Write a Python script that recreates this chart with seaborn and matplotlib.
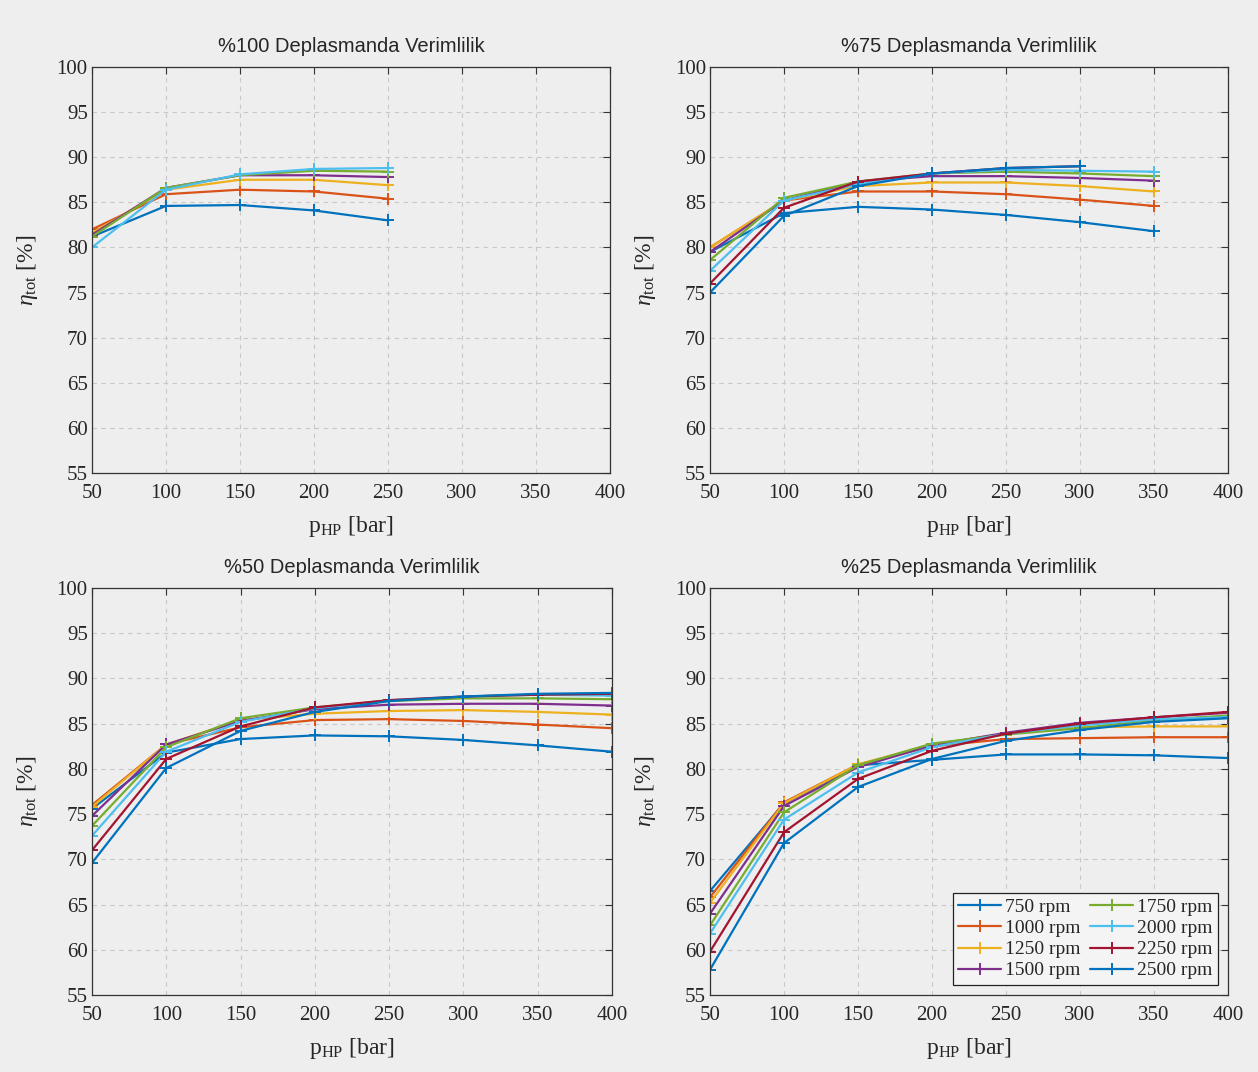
import matplotlib
matplotlib.use('Agg')
import matplotlib.pyplot as plt
import seaborn as sns
import pandas as pd
import numpy as np

# rpm values and MATLAB-style colours
rpm_labels = ['750 rpm', '1000 rpm', '1250 rpm', '1500 rpm',
              '1750 rpm', '2000 rpm', '2250 rpm', '2500 rpm']
renkler = ['#0072BD', '#D95319', '#EDB120', '#7E2F8E',
           '#77AC30', '#4DBEEE', '#A2142F', '#0072BD']

p_hp = [50, 100, 150, 200, 250, 300, 350, 400]

# %100 deplasman (sadece 750-2000 rpm, 250 bar'a kadar)
eta_100 = [
    [81.2, 84.6, 84.7, 84.1, 83.0],
    [82.0, 85.9, 86.4, 86.2, 85.4],
    [81.6, 86.4, 87.5, 87.5, 86.9],
    [81.4, 86.6, 88.0, 88.0, 87.8],
    [81.2, 86.6, 88.0, 88.5, 88.4],
    [80.0, 86.4, 88.1, 88.7, 88.8],
]

# %75 deplasman
eta_75 = [
    [79.5, 83.8, 84.5, 84.2, 83.6, 82.8, 81.8],
    [80.0, 85.2, 86.2, 86.2, 85.9, 85.3, 84.6],
    [80.0, 85.2, 86.8, 87.2, 87.2, 86.8, 86.2],
    [79.5, 85.2, 87.3, 87.9, 87.9, 87.7, 87.4],
    [78.6, 85.5, 87.3, 88.2, 88.4, 88.2, 87.9],
    [77.4, 85.2, 87.0, 88.2, 88.6, 88.5, 88.4],
    [76.0, 84.4, 87.3, 88.2, 88.8, 89.0],
    [75.0, 83.5, 86.8, 88.2, 88.8, 89.0],
]

# %50 deplasman
eta_50 = [
    [75.6, 81.8, 83.3, 83.7, 83.6, 83.2, 82.6, 81.9],
    [76.0, 82.7, 84.6, 85.4, 85.5, 85.3, 84.9, 84.5],
    [75.8, 82.7, 85.4, 86.1, 86.4, 86.5, 86.3, 86.0],
    [74.8, 82.7, 85.3, 86.6, 87.1, 87.2, 87.2, 87.0],
    [73.7, 82.4, 85.6, 86.8, 87.5, 87.8, 87.8, 87.7],
    [72.6, 81.9, 85.2, 86.7, 87.6, 88.0, 88.2, 88.1],
    [71.0, 81.1, 84.7, 86.8, 87.6, 88.0, 88.2, 88.3],
    [69.6, 80.1, 84.2, 86.3, 87.5, 88.0, 88.3, 88.4],
]

# %25 deplasman
eta_25 = [
    [66.5, 76.2, 80.4, 81.0, 81.6, 81.6, 81.5, 81.2],
    [65.8, 76.3, 80.5, 82.5, 83.3, 83.4, 83.5, 83.5],
    [65.2, 76.2, 80.5, 82.7, 83.9, 84.6, 84.7, 84.7],
    [64.0, 75.9, 80.2, 82.6, 84.0, 85.1, 85.7, 86.2],
    [62.7, 75.2, 80.4, 82.8, 83.8, 84.5, 85.4, 85.9],
    [61.8, 74.4, 79.6, 82.4, 83.9, 84.8, 85.5, 85.7],
    [59.8, 73.0, 78.9, 82.0, 83.9, 85.0, 85.7, 86.3],
    [57.8, 71.8, 78.0, 81.1, 83.1, 84.3, 85.2, 85.6],
]

basliklar = ['%100 Deplasmanda Verimlilik', '%75 Deplasmanda Verimlilik',
             '%50 Deplasmanda Verimlilik', '%25 Deplasmanda Verimlilik']
paneller = [eta_100, eta_75, eta_50, eta_25]

sns.set_style('whitegrid')
plt.rcParams['font.family'] = ['Liberation Serif', 'DejaVu Serif']
plt.rcParams['mathtext.fontset'] = 'custom'
plt.rcParams['mathtext.rm'] = 'Liberation Serif'
plt.rcParams['mathtext.it'] = 'Liberation Serif:italic'

arka = '#eeeeee'
fig = plt.figure(figsize=(12.58, 10.72), dpi=100, facecolor=arka)

# eksen konumlari (sol, alt, genislik, yukseklik)
konumlar = [
    [0.0731, 0.5588, 0.4118, 0.3787],
    [0.5644, 0.5588, 0.4118, 0.3787],
    [0.0731, 0.0718, 0.4134, 0.3797],
    [0.5644, 0.0718, 0.4118, 0.3797],
]

for i, (veri, baslik) in enumerate(zip(paneller, basliklar)):
    ax = fig.add_axes(konumlar[i])
    ax.set_facecolor(arka)
    for j, seri in enumerate(veri):
        sns.lineplot(x=p_hp[:len(seri)], y=seri, ax=ax, color=renkler[j],
                     marker='+', markersize=9, markeredgewidth=1.4,
                     markeredgecolor=renkler[j],
                     linewidth=1.6, label=rpm_labels[j])
    ax.set_xlim(50, 400)
    ax.set_ylim(55, 100)
    ax.set_xticks(range(50, 401, 50))
    ax.set_yticks(range(55, 101, 5))
    ax.tick_params(direction='in', top=True, right=True, length=5,
                   labelsize=15, color='#333333')
    ax.tick_params(axis='x', pad=8)
    ax.tick_params(axis='y', pad=3)
    ax.grid(True, linestyle=(0, (4, 4)), color='#c8c8c8', linewidth=0.8)
    for s in ax.spines.values():
        s.set_color('#333333')
        s.set_linewidth(0.9)
    ax.set_title(baslik, fontsize=14.5, family=['Liberation Sans', 'DejaVu Sans'],
                 pad=11)
    ax.set_xlabel(r'p$_{\mathrm{HP}}$ [bar]', fontsize=17, labelpad=8)
    ax.set_ylabel(r'$\eta_{\mathrm{tot}}$ [%]', fontsize=17, labelpad=12)
    if i == 3:
        leg = ax.legend(ncol=2, loc='lower right', fontsize=14,
                        frameon=True, fancybox=False, framealpha=1,
                        edgecolor='#222222', facecolor='#f4f4f4',
                        handlelength=2.2, handletextpad=0.2,
                        columnspacing=0.5, labelspacing=0.18,
                        borderpad=0.3, borderaxespad=0.5)
        leg.get_frame().set_linewidth(0.9)
    else:
        ax.get_legend().remove()

plt.savefig('out.png', dpi=100, facecolor=arka)
